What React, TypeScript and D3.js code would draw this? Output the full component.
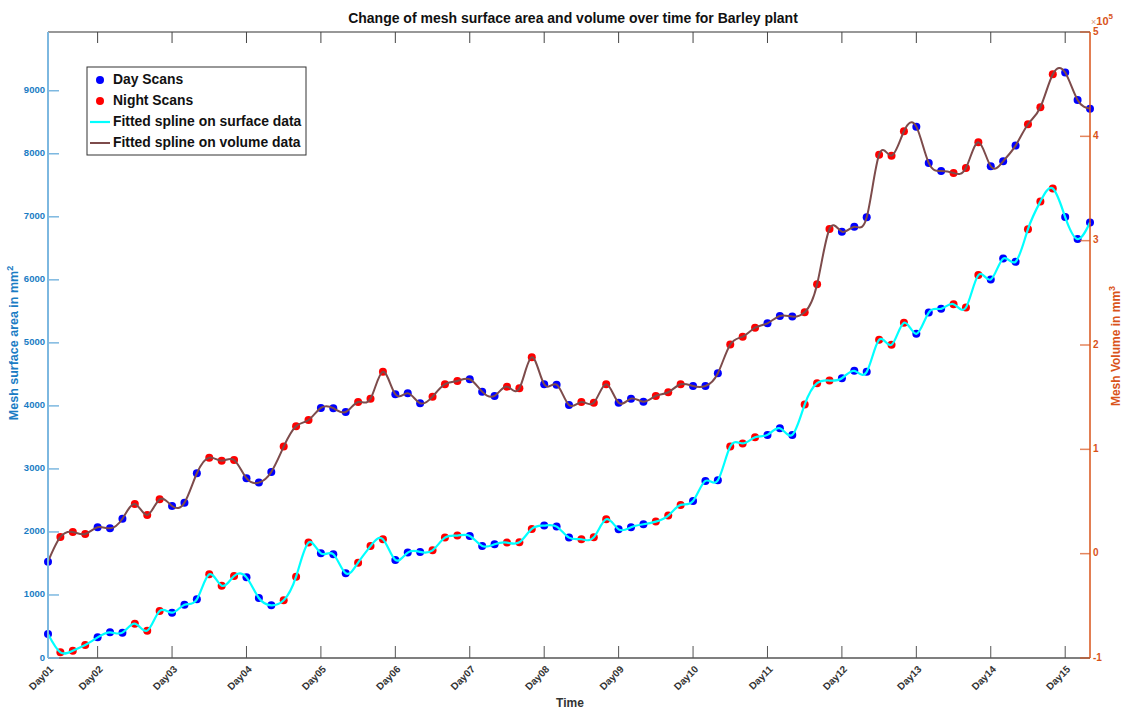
import React from 'react';
import * as d3 from 'd3';

// Scan times in hours from Day01 00:00
const scanHours = [8,12,16,20,24,28,32,36,40,44,48,52,56,60,64,68,72,76,80,84,88,92,96,100,104,108,112,116,120,124,128,132,136,140,144,148,152,156,160,164,168,172,176,180,184,188,192,196,200,204,208,212,216,220,224,228,232,236,240,244,248,252,256,260,264,268,272,276,280,284,288,292,296,300,304,308,312,316,320,324,328,332,336,340,344];

// Mesh surface area (mm^2)
const surfaceArea = [381,90,116,206,328,408,402,545,434,746,719,846,931,1328,1148,1302,1280,952,836,916,1291,1831,1661,1646,1344,1513,1775,1884,1556,1672,1683,1709,1910,1942,1937,1778,1804,1831,1836,2048,2101,2085,1910,1884,1915,2201,2042,2074,2122,2164,2259,2429,2492,2810,2820,3354,3405,3503,3540,3646,3540,4021,4360,4402,4439,4556,4540,5048,4968,5320,5143,5481,5540,5614,5561,6075,6005,6338,6286,6804,7243,7449,6995,6646,6910];

// Mesh volume (mm^3)
const meshVolume = [-7700,16000,20800,18900,25300,24300,33500,47600,37100,52100,45700,48900,77100,92000,89100,89800,72300,68100,78300,102600,122100,128100,139700,139400,135800,145400,148600,174400,152800,153700,144200,150500,162400,165500,167200,155300,151200,160100,158500,188200,162400,162000,142500,145400,144700,162400,144700,148600,145700,151200,154700,162400,160700,160700,172900,200500,208000,216600,220800,227800,227200,231400,258200,311200,308600,313400,322400,382400,381500,404900,409300,374500,366800,364900,369700,394300,371300,376100,391100,411600,427900,459500,461100,434900,426500];

const dayTickHours = [8,24,48,72,96,120,144,168,192,216,240,264,288,312,336];
const dayTickLabels = ['Day01','Day02','Day03','Day04','Day05','Day06','Day07','Day08','Day09','Day10','Day11','Day12','Day13','Day14','Day15'];
const leftTicks = [0,1000,2000,3000,4000,5000,6000,7000,8000,9000];
const rightTicks = [-1,0,1,2,3,4,5];

const W = 1122, H = 711;
const L = 48, R = 1090, T = 32, B = 658;
const FONT = 'Liberation Sans, Arial, Helvetica, sans-serif';
const BLUE_TXT = '#1a7cc4';
const BLUE_AX = '#7db8e0';
const ORANGE = '#D95319';
const CYAN = '#00FFFF';
const BROWN = '#7d4b4b';

export default function App() {
  const x = d3.scaleLinear().domain([8, 344]).range([L, R]);
  const yL = d3.scaleLinear().domain([0, 9932]).range([B, T]);
  const yR = d3.scaleLinear().domain([-1e5, 5e5]).range([B, T]);

  const surfPts = scanHours.map((h, i) => [x(h), yL(surfaceArea[i])] as [number, number]);
  const volPts = scanHours.map((h, i) => [x(h), yR(meshVolume[i])] as [number, number]);
  const line = d3.line().curve(d3.curveNatural);
  const isDay = (h: number) => (h % 24) < 12;

  return (
    <svg width={W} height={H} style={{ position: 'absolute', left: 0, top: 0, background: '#fff' }} fontFamily={FONT}>
      <rect x={0} y={0} width={W} height={H} fill="#fff" />
      {/* title */}
      <text x={573} y={23} textAnchor="middle" fontSize={14} fontWeight="bold" fill="#111">
        Change of mesh surface area and volume over time for Barley plant
      </text>

      {/* markers */}
      {scanHours.map((h, i) => (
        <circle key={'sv' + i} cx={volPts[i][0]} cy={volPts[i][1]} r={4} fill={isDay(h) ? '#0000ff' : '#ff0000'} />
      ))}
      {scanHours.map((h, i) => (
        <circle key={'ss' + i} cx={surfPts[i][0]} cy={surfPts[i][1]} r={4} fill={isDay(h) ? '#0000ff' : '#ff0000'} />
      ))}
      {/* splines */}
      <path d={line(volPts) || ''} fill="none" stroke={BROWN} strokeWidth={2} />
      <path d={line(surfPts) || ''} fill="none" stroke={CYAN} strokeWidth={2.2} />

      {/* top axis */}
      <line x1={L} x2={R} y1={T} y2={T} stroke="#333" strokeWidth={1.2} />
      {dayTickHours.map((h, i) => (
        <line key={'tt' + i} x1={x(h)} x2={x(h)} y1={T} y2={T + 11} stroke="#444" strokeWidth={1} />
      ))}
      {/* bottom axis */}
      <line x1={L} x2={R} y1={B} y2={B} stroke="#555" strokeWidth={1.5} />
      {dayTickHours.map((h, i) => (
        <g key={'bt' + i}>
          <line x1={x(h)} x2={x(h)} y1={B} y2={B - 12} stroke="#555" strokeWidth={1} />
          <text transform={`translate(${x(h) + 4},${B + 10}) rotate(-45)`} textAnchor="end" dominantBaseline="middle"
            fontSize={10} fontWeight="bold" fill="#333">{dayTickLabels[i]}</text>
        </g>
      ))}
      <text x={570} y={707} textAnchor="middle" fontSize={12} fontWeight="bold" fill="#333">Time</text>

      {/* left axis */}
      <line x1={L} x2={L} y1={T} y2={B} stroke={BLUE_AX} strokeWidth={2} />
      {leftTicks.map((v) => (
        <g key={'lt' + v}>
          <line x1={L} x2={L + 11} y1={yL(v)} y2={yL(v)} stroke={BLUE_AX} strokeWidth={1.5} />
          <text x={L - 3} y={yL(v)} textAnchor="end" dominantBaseline="middle" fontSize={9.5} fontWeight="bold" fill={BLUE_TXT}>{v}</text>
        </g>
      ))}
      <text transform={`translate(18,${343}) rotate(-90)`} textAnchor="middle" fontSize={12.5} fontWeight="bold" fill={BLUE_TXT}>
        Mesh surface area in mm<tspan dy={-5} fontSize={9}>2</tspan>
      </text>

      {/* right axis */}
      <line x1={R} x2={R} y1={T} y2={B} stroke={ORANGE} strokeWidth={1.5} />
      {rightTicks.map((v) => (
        <g key={'rt' + v}>
          <line x1={R - 10} x2={R} y1={yR(v * 1e5)} y2={yR(v * 1e5)} stroke={ORANGE} strokeOpacity={0.7} strokeWidth={1.5} />
          <text x={R + 3} y={yR(v * 1e5)} dominantBaseline="middle" fontSize={10} fontWeight="bold" fill={ORANGE}>{v}</text>
        </g>
      ))}
      <text x={R + 1} y={25} fontSize={11} fontWeight="bold" fill={ORANGE}>
        <tspan fontSize={9} fontWeight="normal" fill="#d89a80">×</tspan>10<tspan dy={-6} fontSize={8}>5</tspan>
      </text>
      <text transform={`translate(1120,${346}) rotate(-90)`} textAnchor="middle" fontSize={12} fontWeight="bold" fill={ORANGE}>
        Mesh Volume in mm<tspan dy={-5} fontSize={9}>3</tspan>
      </text>

      {/* legend */}
      <rect x={87} y={67} width={219} height={88} fill="#fff" stroke="#333" strokeWidth={1} />
      <circle cx={100} cy={80} r={4} fill="#0000ff" />
      <circle cx={100} cy={101} r={4} fill="#ff0000" />
      <line x1={90} x2={110} y1={122} y2={122} stroke={CYAN} strokeWidth={2.2} />
      <line x1={90} x2={110} y1={143} y2={143} stroke={BROWN} strokeWidth={2} />
      {['Day Scans', 'Night Scans', 'Fitted spline on surface data', 'Fitted spline on volume data'].map((s, i) => (
        <text key={'lg' + i} x={113} y={80 + i * 21} dominantBaseline="middle" fontSize={13.9} fontWeight="bold" fill="#111">{s}</text>
      ))}
    </svg>
  );
}
